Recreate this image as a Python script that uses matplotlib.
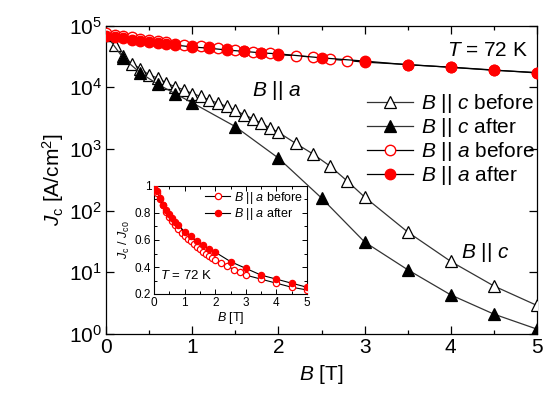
import math
import matplotlib
matplotlib.use("Agg")
import matplotlib.pyplot as plt
from matplotlib.ticker import FixedLocator, FuncFormatter, MultipleLocator

plt.rcParams['font.family'] = ['Liberation Sans', 'DejaVu Sans']
plt.rcParams['mathtext.fontset'] = 'custom'
plt.rcParams['mathtext.rm'] = 'Liberation Sans'
plt.rcParams['mathtext.it'] = 'Liberation Sans:italic'
plt.rcParams['mathtext.bf'] = 'Liberation Sans:bold'

# ---------------- data: main panel (Jc in A/cm^2) ----------------
B_c_before = [0, 0.1, 0.2, 0.3, 0.4, 0.5, 0.6, 0.7, 0.8, 0.9, 1.0, 1.1, 1.2, 1.3, 1.4,
              1.5, 1.6, 1.7, 1.8, 1.9, 2.0, 2.2, 2.4, 2.6, 2.8, 3.0, 3.5, 4.0, 4.5, 5.0]
Jc_c_before = [71000, 48000, 31600, 24000, 20000, 15800, 14100, 11700, 10200, 9100, 7900,
               7100, 6200, 5500, 4900, 4200, 3600, 3100, 2600, 2200, 1860, 1230, 830, 525,
               300, 166, 45, 15, 6.0, 2.9]

B_c_after = [0, 0.2, 0.4, 0.6, 0.8, 1.0, 1.5, 2.0, 2.5, 3.0, 3.5, 4.0, 4.5, 5.0]
Jc_c_after = [71000, 29500, 17000, 11200, 7900, 5600, 2300, 710, 160, 31, 11, 4.3, 2.1, 1.2]

B_a_before = [0, 0.1, 0.2, 0.3, 0.4, 0.5, 0.6, 0.7, 0.8, 0.9, 1.0, 1.1, 1.2, 1.3, 1.4,
              1.5, 1.6, 1.7, 1.8, 1.9, 2.0, 2.2, 2.4, 2.6, 2.8, 3.0, 3.5, 4.0, 4.5, 5.0]
Jc_a_before = [75000, 71000, 67500, 64500, 60800, 57800, 55500, 53300, 51000, 48800, 47300,
               45800, 44300, 42800, 41300, 39800, 38300, 37500, 36000, 35300, 33800, 32300,
               30800, 28500, 27000, 25500, 23300, 21000, 18800, 17300]

B_a_after = [0, 0.1, 0.2, 0.3, 0.4, 0.5, 0.6, 0.7, 0.8, 1.0, 1.2, 1.4, 1.6, 1.8, 2.0,
             2.5, 3.0, 3.5, 4.0, 4.5, 5.0]
Jc_a_after = [68000, 65300, 61900, 58500, 55800, 53700, 51700, 49600, 48300, 44900, 42800,
              40100, 38100, 36000, 34700, 29900, 26500, 23100, 21100, 19000, 17000]

# ---------------- data: inset (Jc / Jc0) ----------------
r_a_before = [1.0, 0.95, 0.90, 0.86, 0.81, 0.77, 0.74, 0.71, 0.68, 0.65, 0.63, 0.61, 0.59,
              0.57, 0.55, 0.53, 0.51, 0.50, 0.48, 0.47, 0.45, 0.43, 0.41, 0.38, 0.36, 0.34,
              0.31, 0.28, 0.25, 0.23]
r_a_after = [1.0, 0.96, 0.91, 0.86, 0.82, 0.79, 0.76, 0.73, 0.71, 0.66, 0.63, 0.59, 0.56,
             0.53, 0.51, 0.44, 0.39, 0.34, 0.31, 0.28, 0.25]

x_ticks = [0, 1, 2, 3, 4, 5]
y_ticks = [1, 10, 100, 1000, 10000, 100000]
inset_y_ticks = [0.2, 0.4, 0.6, 0.8, 1.0]

RED = '#ff0000'
LINE = '#333333'

fig = plt.figure(figsize=(5.44, 3.98), dpi=100)
ax = fig.add_axes([106 / 544, 1 - 334 / 398, (537 - 106) / 544, (334 - 25.5) / 398])

ax.plot(B_c_before, Jc_c_before, color=LINE, lw=0.9, marker='^', ms=8.5,
        mfc='white', mec='black', mew=0.9, label='$B$ || $c$ before', zorder=3)
ax.plot(B_c_after, Jc_c_after, color=LINE, lw=0.9, marker='^', ms=8.5,
        mfc='black', mec='black', mew=0.9, label='$B$ || $c$ after', zorder=3)
ax.plot(B_a_before, Jc_a_before, color='black', lw=0.9, marker='o', ms=7.5,
        mfc='white', mec=RED, mew=1.0, label='$B$ || $a$ before', zorder=4)
ax.plot(B_a_after, Jc_a_after, color='black', lw=0.9, marker='o', ms=7.5,
        mfc=RED, mec=RED, mew=1.0, label='$B$ || $a$ after', zorder=5)

ax.set_yscale('log')
ax.set_xlim(0, 5)
ax.set_ylim(1, 1e5)
ax.xaxis.set_major_locator(FixedLocator(x_ticks))
ax.xaxis.set_minor_locator(MultipleLocator(0.5))
ax.yaxis.set_major_locator(FixedLocator(y_ticks))
ax.yaxis.set_minor_locator(FixedLocator([]))
ax.yaxis.set_major_formatter(FuncFormatter(lambda v, p: r'$\mathregular{10^{%d}}$' % round(math.log10(v))))
ax.xaxis.set_major_formatter(FuncFormatter(lambda v, p: '%d' % v))
ax.tick_params(which='both', direction='in', top=True, right=True, labelsize=15, pad=3)
ax.tick_params(which='major', length=6, width=0.9)
ax.tick_params(which='minor', length=3, width=0.9)
for s in ax.spines.values():
    s.set_linewidth(0.9)

ax.set_xlabel('$B$ [T]', fontsize=15, labelpad=4)
ax.set_ylabel(r'$J_{\mathrm{c}}$ [A/cm$^2$]', fontsize=15, labelpad=2)

ax.text(0.98, 0.92, '$T$ = 72 K', transform=ax.transAxes, fontsize=15, ha='right', va='center')
ax.text(0.395, 0.79, '$B$ || $a$', transform=ax.transAxes, fontsize=15, ha='center', va='center')
ax.text(0.88, 0.265, '$B$ || $c$', transform=ax.transAxes, fontsize=15, ha='center', va='center')

leg = ax.legend(loc='upper right', bbox_to_anchor=(1.0, 0.79), frameon=False, fontsize=15,
                handlelength=2.2, handletextpad=0.4, labelspacing=0.05, borderpad=0,
                borderaxespad=0.1)

# ---------------- inset ----------------
ins = fig.add_axes([154 / 544, 1 - 294 / 398, 153 / 544, 108 / 398])
ins.plot(B_a_before, r_a_before, color='black', lw=0.8, marker='o', ms=4.5,
         mfc='white', mec=RED, mew=0.9, label='$B$ || $a$ before', zorder=3)
ins.plot(B_a_after, r_a_after, color='black', lw=0.8, marker='o', ms=4.5,
         mfc=RED, mec=RED, mew=0.9, label='$B$ || $a$ after', zorder=4)
ins.set_xlim(0, 5)
ins.set_ylim(0.2, 1.0)
ins.xaxis.set_major_locator(FixedLocator(x_ticks))
ins.xaxis.set_minor_locator(MultipleLocator(0.5))
ins.yaxis.set_major_locator(FixedLocator(inset_y_ticks))
ins.yaxis.set_minor_locator(MultipleLocator(0.1))
ins.xaxis.set_major_formatter(FuncFormatter(lambda v, p: '%d' % v))
ins.yaxis.set_major_formatter(FuncFormatter(lambda v, p: '1' if abs(v - 1) < 1e-9 else '%.1f' % v))
ins.tick_params(which='both', direction='in', top=True, right=True, labelsize=8.5, pad=2)
ins.tick_params(which='major', length=3.5, width=0.7)
ins.tick_params(which='minor', length=2, width=0.7)
for s in ins.spines.values():
    s.set_linewidth(0.8)
ins.set_xlabel('$B$ [T]', fontsize=9, labelpad=1)
ins.set_ylabel(r'$J_{\mathrm{c}}$ / $J_{\mathrm{c0}}$', fontsize=9, labelpad=2)
ins.text(0.04, 0.17, '$T$ = 72 K', transform=ins.transAxes, fontsize=9.5, ha='left', va='center')
ins.legend(loc='upper right', frameon=False, fontsize=9, handlelength=2.0, handletextpad=0.3,
           labelspacing=0.05, borderpad=0.2, borderaxespad=0.1)

fig.savefig('out.png', dpi=100)
